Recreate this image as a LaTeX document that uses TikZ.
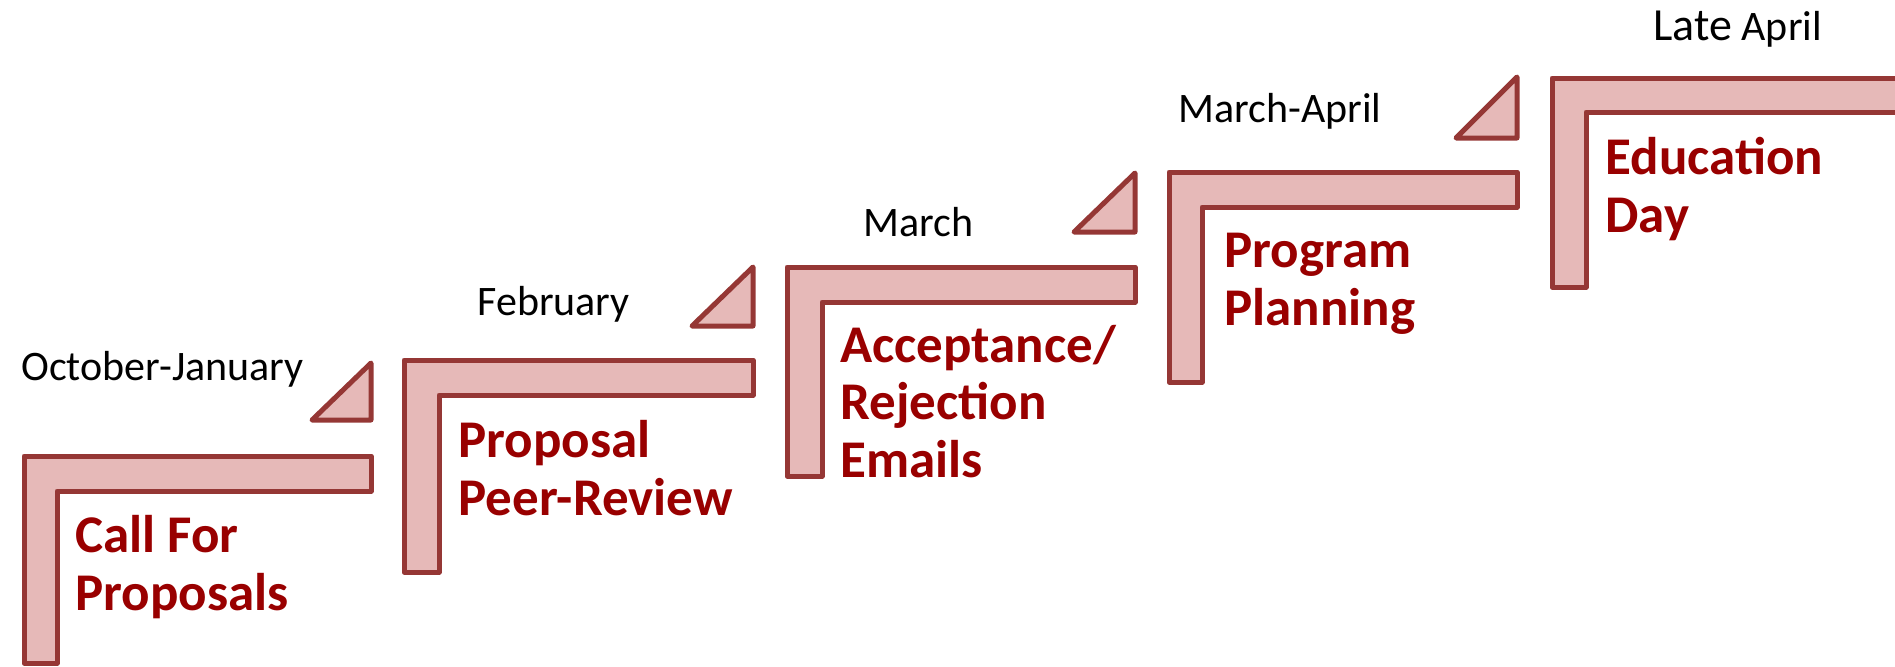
\documentclass[tikz,border=0pt]{standalone}
\usepackage{fontspec}
\setmainfont{Carlito}
\definecolor{stepline}{HTML}{953735}
\definecolor{stepfill}{HTML}{E6B9B8}
\definecolor{steptext}{HTML}{990000}
\tikzset{
  stepshape/.style={draw=stepline, fill=stepfill, line width=2.5pt, line join=round},
  datelabel/.style={anchor=base west, inner sep=0pt, font=\fontsize{21pt}{24pt}\selectfont, text=black},
  steplabel/.style={anchor=base west, inner sep=0pt, align=left, font=\fontsize{26.5pt}{28.6pt}\selectfont\bfseries, text=steptext}
}
\begin{document}
\begin{tikzpicture}[x=0.5pt, y=-0.5pt]
\useasboundingbox (0,0) rectangle (1895,666);
\clip (0,0) rectangle (1895,666);
% L-shaped steps
\draw[stepshape] (24,663) -- (24,456) -- (371,456) -- (371,491) -- (57,491) -- (57,663) -- cycle;
\draw[stepshape] (404,572) -- (404,360) -- (753,360) -- (753,395) -- (439,395) -- (439,572) -- cycle;
\draw[stepshape] (787,476) -- (787,267) -- (1135,267) -- (1135,302) -- (822,302) -- (822,476) -- cycle;
\draw[stepshape] (1169,382) -- (1169,172) -- (1517,172) -- (1517,207) -- (1202,207) -- (1202,382) -- cycle;
\draw[stepshape] (1552,287) -- (1552,78) -- (1930,78) -- (1930,112) -- (1586,112) -- (1586,287) -- cycle;
% triangles
\draw[stepshape] (371,363) -- (371,420) -- (312,420) -- cycle;
\draw[stepshape] (753,267) -- (753,326) -- (692,326) -- cycle;
\draw[stepshape] (1135,173) -- (1135,232) -- (1074,232) -- cycle;
\draw[stepshape] (1517,77) -- (1517,138) -- (1456,138) -- cycle;
% date labels
\node[datelabel] (d1) at (21,380) {October-January};
\node[datelabel] (d2) at (477,315) {February};
\node[datelabel] (d3) at (863,236) {March};
\node[datelabel] (d4) at (1178,122) {March-April};
\node[datelabel] (d5) at (1653,40) {{\fontsize{23pt}{24pt}\selectfont Late} April};
% step labels (anchor = baseline of last line)
\node[steplabel] (s1) at (75,610) {Call For\\Proposals};
\node[steplabel] (s2) at (458,515) {Proposal\\Peer-Review};
\node[steplabel] (s3) at (840,477) {Acceptance/\\Rejection\\Emails};
\node[steplabel] (s4) at (1224,325) {Program\\Planning};
\node[steplabel] (s5) at (1605,232) {Education\\Day};
\end{tikzpicture}
\end{document}
